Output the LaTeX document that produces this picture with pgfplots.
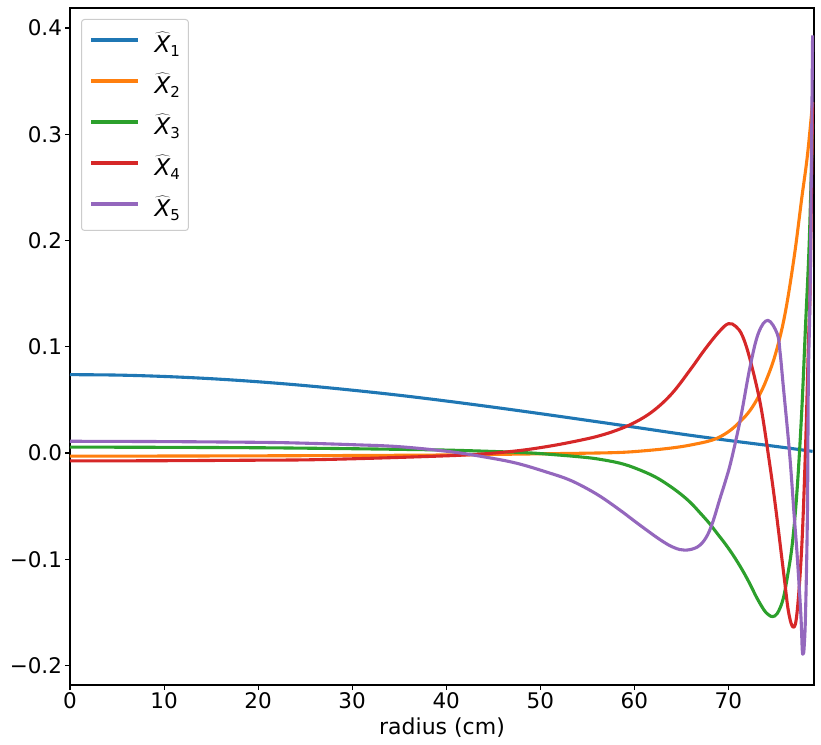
\documentclass[border=0pt]{standalone}
\usepackage{pgfplots}
\pgfplotsset{compat=1.18}
\usepackage{fontspec}
\setmainfont{DejaVu Sans}
\definecolor{c0}{HTML}{1F77B4}
\definecolor{c1}{HTML}{FF7F0E}
\definecolor{c2}{HTML}{2CA02C}
\definecolor{c3}{HTML}{D62728}
\definecolor{c4}{HTML}{9467BD}
\newcommand{\hx}[1]{$\widehat{\mbox{\itshape X}}_{\mbox{\fontsize{15bp}{15bp}\selectfont #1}}$}
\begin{document}
\begin{tikzpicture}
\useasboundingbox (-70bp,-60bp) rectangle (751bp,685bp);
\begin{axis}[
  at={(0,0)}, anchor=south west,
  scale only axis, width=744bp, height=677bp,
  xmin=0, xmax=79.1, ymin=-0.2184, ymax=0.4188,
  xtick={0,10,20,30,40,50,60,70}, xticklabels={0,10,20,30,40,50,60,70},
  ytick={-0.2,-0.1,0,0.1,0.2,0.3,0.4},
  yticklabels={−0.2,−0.1,0.0,0.1,0.2,0.3,0.4},
  xtick pos=left, ytick pos=left,
  tick align=outside, major tick length=4.5bp,
  every tick/.style={black, line width=1.1bp},
  axis line style={line width=1.1bp},
  ticklabel style={font=\fontsize{21.5bp}{25bp}\selectfont},
  xlabel={radius (cm)},
  xlabel style={font=\fontsize{22bp}{26bp}\selectfont, yshift=-2bp},
  legend style={at={(axis description cs:0.0148,0.9838)}, anchor=north west,
    draw=black!20, rounded corners=3bp, line width=1bp,
    inner xsep=8bp, inner ysep=9bp,
    font=\fontsize{23bp}{26bp}\selectfont,
    nodes={inner sep=0pt, text height=24bp, text depth=5bp},
    row sep=12bp},
  /tikz/every odd column/.append style={column sep=15bp},
  legend cell align=left,
  legend image code/.code={\draw[#1] (0bp,3bp) -- (47bp,3bp);},
  every axis plot/.append style={line width=3.1bp, line join=round, smooth, tension=0.6},
]
\addplot[c0] coordinates {
(0,0.0737) (5,0.0733) (10,0.0720) (15,0.0699) (20,0.0670) (25,0.0634)
(30,0.0591) (35,0.0543) (40,0.0489) (45,0.0431) (50,0.0370) (55,0.0307)
(60,0.0243) (65,0.0178) (70,0.0118) (75,0.0062) (78.95,0.0015)};
\addlegendentry{\hx{1}}
\addplot[c1] coordinates {
(0,-0.0030) (10,-0.0029) (20,-0.0027) (30,-0.0024) (40,-0.0019) (45,-0.0014)
(50,-0.0008) (55,-0.0002) (58.5,0.0005) (61,0.0020) (63.8,0.0045) (66,0.0075)
(68.4,0.0125) (70,0.0200) (71.3,0.0300) (72.3,0.0400) (73.2,0.0530)
(74,0.0680) (75,0.0930) (76,0.1300) (77,0.1850) (77.8,0.2400) (78.4,0.2800)
(78.95,0.3300)};
\addlegendentry{\hx{2}}
\addplot[c2] coordinates {
(0,0.0055) (10,0.0053) (20,0.0049) (25,0.0045) (30,0.0040) (35,0.0034)
(40,0.0027) (45,0.0014) (49,0.0000) (52,-0.0020) (54,-0.0035) (56,-0.0055)
(58.5,-0.0097) (60.3,-0.0150) (62.1,-0.0220) (63.5,-0.0295) (64.9,-0.0385)
(66,-0.0470) (67,-0.0565) (68,-0.0665) (68.8,-0.0757) (69.7,-0.0860)
(70.6,-0.0975) (71.5,-0.1105) (72.3,-0.1235) (73.0,-0.1360) (73.8,-0.1480)
(74.3,-0.1525) (74.7,-0.1540) (75.2,-0.1510) (75.8,-0.1380) (76.3,-0.1150)
(76.8,-0.0850) (77.3,-0.0350) (77.8,0.0400) (78.2,0.1200) (78.6,0.2000)
(78.95,0.3100)};
\addlegendentry{\hx{3}}
\addplot[c3] coordinates {
(0,-0.0075) (10,-0.0073) (20,-0.0068) (25,-0.0065) (30,-0.0055) (35,-0.0042)
(40,-0.0027) (42,-0.0019) (45,-0.0002) (48,0.0025) (50,0.0050) (52,0.0080)
(54,0.0115) (56,0.0155) (58,0.0210) (60,0.0285) (62,0.0395) (64,0.0560)
(66,0.0790) (67.5,0.0975) (69,0.1140) (70,0.1217) (70.8,0.1190) (71.5,0.1100)
(72.3,0.0880) (73.4,0.0460) (74.3,-0.0050) (75,-0.0500) (75.9,-0.1150)
(76.4,-0.1500) (76.9,-0.1640) (77.3,-0.1500) (77.8,-0.0880) (78.2,0.0050)
(78.5,0.1000) (78.7,0.1630) (78.95,0.3300)};
\addlegendentry{\hx{4}}
\addplot[c4] coordinates {
(0,0.0110) (10,0.0107) (20,0.0100) (24.5,0.0093) (30,0.0078) (35,0.0059)
(40.4,0.0012) (43.9,-0.0035) (47.5,-0.0097) (51.1,-0.0192) (53,-0.0250)
(54.6,-0.0318) (56.4,-0.0410) (58.5,-0.0540) (60.6,-0.0680) (62.8,-0.0820)
(64.2,-0.0890) (65.4,-0.0915) (66.7,-0.0885) (67.6,-0.0800) (68.3,-0.0660)
(69.1,-0.0430) (69.7,-0.0260) (70.3,-0.0070) (71.3,0.0330) (72.3,0.0810)
(73.2,0.1130) (74.2,0.1248) (75.2,0.1120) (75.5,0.0940) (75.8,0.0660)
(76.5,0.0000) (77.0,-0.0600) (77.3,-0.0950) (77.7,-0.1520) (77.85,-0.1850)
(77.95,-0.1890) (78.05,-0.1830) (78.2,-0.1510) (78.4,-0.0570) (78.5,0.0690)
(78.7,0.1630) (78.95,0.3930)};
\addlegendentry{\hx{5}}
\end{axis}
\end{tikzpicture}
\end{document}
